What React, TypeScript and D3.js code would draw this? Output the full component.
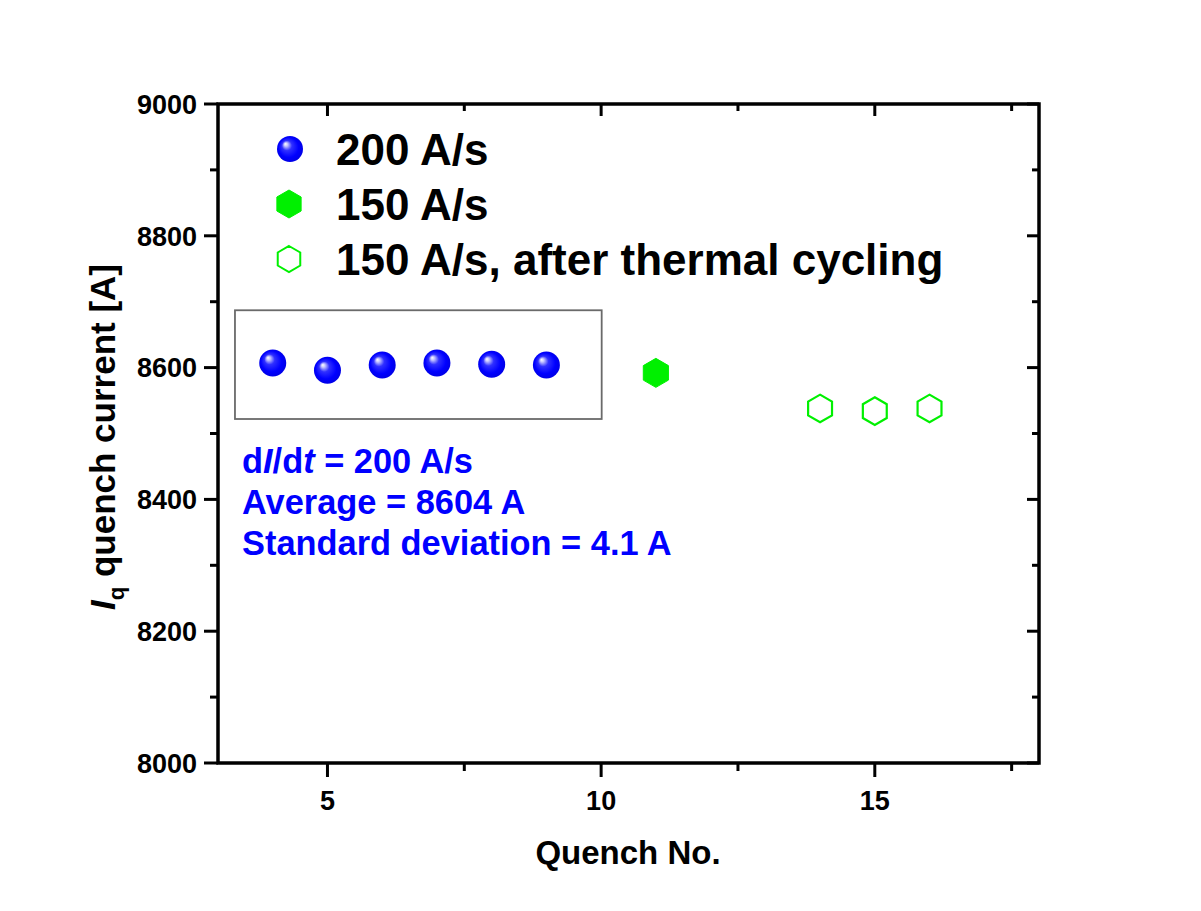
import React from "react";
import * as d3 from "d3";

const quench200 = [4, 5, 6, 7, 8, 9];
const current200 = [8607, 8596, 8604, 8607, 8605, 8604];
const quench150 = [11];
const current150 = [8592];
const quench150tc = [14, 15, 16];
const current150tc = [8538, 8534, 8538];
const xTicks = [5, 10, 15];
const xMinorTicks = [7.5, 12.5, 17.5];
const yTicks = [8000, 8200, 8400, 8600, 8800, 9000];
const yMinorTicks = [8100, 8300, 8500, 8700, 8900];
const legendLabels = ["200 A/s", "150 A/s", "150 A/s, after thermal cycling"];
const boxExtent = { x0: 3.31, x1: 10.01, y0: 8522, y1: 8687 };

const W = 1201, H = 911;
const L = 218, R = 1039, T = 104, B = 763;
const FONT = "Liberation Sans, Arial, sans-serif";
const GREEN = "#00f000";
const BLUE = "#0000ff";

const x = d3.scaleLinear().domain([3, 18]).range([L, R]);
const y = d3.scaleLinear().domain([8000, 9000]).range([B, T]);

function hexPath(cx: number, cy: number, r: number) {
  const pts: [number, number][] = d3.range(6).map((i) => {
    const a = (Math.PI / 3) * i - Math.PI / 2;
    return [cx + r * Math.cos(a), cy + r * Math.sin(a)];
  });
  return (d3.line()(pts) || "") + "Z";
}

function Sphere({ cx, cy, r }: { cx: number; cy: number; r: number }) {
  return <circle cx={cx} cy={cy} r={r} fill="url(#sphereGrad)" />;
}

export default function App() {
  const tickW = 3;
  const legendY = [149, 204, 259];
  return (
    <svg width={W} height={H} style={{ position: "absolute", left: 0, top: 0, background: "#fff" }} fontFamily={FONT}>
      <defs>
        <radialGradient id="sphereGrad" cx="50%" cy="50%" r="55%" fx="32%" fy="30%">
          <stop offset="0%" stopColor="#ffffff" />
          <stop offset="12%" stopColor="#c8c8ff" />
          <stop offset="35%" stopColor="#3030ff" />
          <stop offset="70%" stopColor="#0000ff" />
          <stop offset="100%" stopColor="#0000e0" />
        </radialGradient>
      </defs>
      <rect x={0} y={0} width={W} height={H} fill="#fff" />

      {/* annotation box */}
      <rect
        x={x(boxExtent.x0)}
        y={y(boxExtent.y1)}
        width={x(boxExtent.x1) - x(boxExtent.x0)}
        height={y(boxExtent.y0) - y(boxExtent.y1)}
        fill="none"
        stroke="#6a6a6a"
        strokeWidth={1.8}
      />

      {/* frame */}
      <rect x={L} y={T} width={R - L} height={B - T} fill="none" stroke="#000" strokeWidth={3.5} />

      {/* y ticks left (outward) and right (inward) */}
      {yTicks.map((t) => (
        <g key={"y" + t}>
          <line x1={L - 14} x2={L} y1={y(t)} y2={y(t)} stroke="#000" strokeWidth={tickW} />
          <line x1={R} x2={R - 12} y1={y(t)} y2={y(t)} stroke="#000" strokeWidth={tickW} />
          <text x={L - 21} y={y(t)} dy="0.36em" textAnchor="end" fontSize={27} fontWeight="bold">
            {t}
          </text>
        </g>
      ))}
      {yMinorTicks.map((t) => (
        <g key={"ym" + t}>
          <line x1={L - 8} x2={L} y1={y(t)} y2={y(t)} stroke="#000" strokeWidth={tickW} />
          <line x1={R} x2={R - 7} y1={y(t)} y2={y(t)} stroke="#000" strokeWidth={tickW} />
        </g>
      ))}

      {/* x ticks bottom (outward) and top (inward) */}
      {xTicks.map((t) => (
        <g key={"x" + t}>
          <line x1={x(t)} x2={x(t)} y1={B} y2={B + 14} stroke="#000" strokeWidth={tickW} />
          <line x1={x(t)} x2={x(t)} y1={T} y2={T + 12} stroke="#000" strokeWidth={tickW} />
          <text x={x(t)} y={810} textAnchor="middle" fontSize={27} fontWeight="bold">
            {t}
          </text>
        </g>
      ))}
      {xMinorTicks.map((t) => (
        <g key={"xm" + t}>
          <line x1={x(t)} x2={x(t)} y1={B} y2={B + 8} stroke="#000" strokeWidth={tickW} />
          <line x1={x(t)} x2={x(t)} y1={T} y2={T + 7} stroke="#000" strokeWidth={tickW} />
        </g>
      ))}

      {/* axis titles */}
      <text x={628} y={864} textAnchor="middle" fontSize={33} fontWeight="bold">
        Quench No.
      </text>
      <text
        transform={`translate(115, 437) rotate(-90)`}
        textAnchor="middle"
        fontSize={35}
        fontWeight="bold"
      >
        <tspan fontStyle="italic">I</tspan>
        <tspan fontSize={22} dy={9}>q</tspan>
        <tspan dy={-9}> quench current [A]</tspan>
      </text>

      {/* data */}
      {quench200.map((q, i) => (
        <Sphere key={"b" + q} cx={x(q)} cy={y(current200[i])} r={13.5} />
      ))}
      {quench150.map((q, i) => (
        <path key={"g" + q} d={hexPath(x(q), y(current150[i]), 14.5)} fill={GREEN} stroke={GREEN} strokeWidth={1} />
      ))}
      {quench150tc.map((q, i) => (
        <path key={"o" + q} d={hexPath(x(q), y(current150tc[i]), 13.8)} fill="none" stroke={GREEN} strokeWidth={2.2} />
      ))}

      {/* legend */}
      <Sphere cx={290} cy={legendY[0]} r={13} />
      <path d={hexPath(289, legendY[1], 14)} fill={GREEN} stroke={GREEN} strokeWidth={1} />
      <path d={hexPath(289, legendY[2], 13)} fill="none" stroke={GREEN} strokeWidth={2} />
      {legendLabels.map((lab, i) => (
        <text key={lab} x={336} y={legendY[i]} dy="0.36em" fontSize={44} fontWeight="bold">
          {lab}
        </text>
      ))}

      {/* annotation */}
      <g fill={BLUE} fontSize={34.4} fontWeight="bold">
        <text x={242} y={473}>
          d<tspan fontStyle="italic">I</tspan>/d<tspan fontStyle="italic">t</tspan> = 200 A/s
        </text>
        <text x={242} y={514}>Average = 8604 A</text>
        <text x={242} y={555}>Standard deviation = 4.1 A</text>
      </g>
    </svg>
  );
}
